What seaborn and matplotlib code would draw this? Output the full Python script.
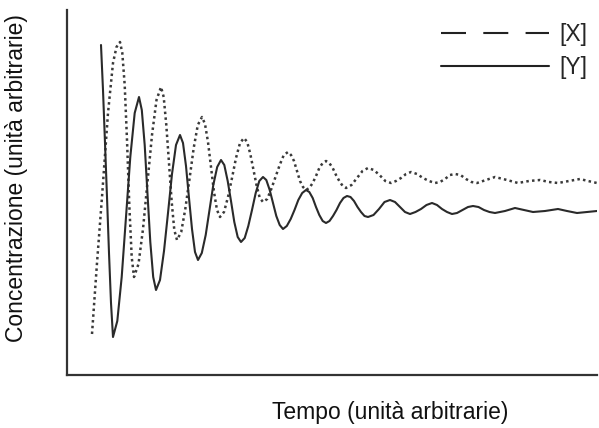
import matplotlib
matplotlib.use("Agg")
import matplotlib.pyplot as plt
import seaborn as sns
import pandas as pd
from matplotlib.lines import Line2D

# Time (arbitrary units) and concentrations
time_x = [25, 30, 35, 41, 46, 49.5, 53,
          55.3, 57.7, 60, 62.3, 64.7, 67,
          71.5, 76, 80.5, 85, 89.5, 94,
          96.7, 99.3, 102, 104.7, 107.3, 110,
          114.2, 118.3, 122.5, 126.7, 130.8, 135,
          138, 141, 144, 147, 150, 153,
          157, 161, 165, 169, 173, 177,
          180.2, 183.3, 186.5, 189.7, 192.8, 196,
          200.2, 204.3, 208.5, 212.7, 216.8, 221,
          224, 227, 230, 233, 236, 239,
          242.3, 245.7, 249, 252.3, 255.7, 259,
          262.3, 265.7, 269, 272.3, 275.7, 279,
          284.5, 290, 295.5, 301,
          306.8, 312.5, 318.3, 324,
          329, 334, 339, 344,
          350, 356, 362, 368,
          373, 378, 383, 388,
          393.5, 399, 404.5, 410,
          419, 428, 440, 451, 462, 473, 482, 491, 502, 513, 521, 530]
conc_x = [41, 112, 178, 262, 312, 328, 333,
          322, 290, 235, 170, 118, 98,
          111, 146, 193, 240, 275, 288,
          278, 250, 212, 173, 145, 135,
          143, 166, 196, 227, 250, 258,
          251, 233, 208, 183, 165, 158,
          163, 178, 197, 217, 232, 237,
          233, 221, 205, 189, 177, 173,
          176, 186, 198, 210, 220, 223,
          220, 214, 204, 194, 188, 185,
          187, 192, 199, 207, 212, 214,
          212, 207, 200, 194, 189, 187,
          190, 197, 204, 207,
          205, 200, 194, 192,
          194, 197, 201, 203,
          201, 197, 194, 192,
          193, 196, 200, 201,
          200, 196, 193, 192,
          195, 198, 195, 192, 194, 195, 193, 192, 194, 196, 194, 192]

time_y = [34, 36, 38, 40, 42, 44, 46,
          50.3, 54.7, 59, 63.3, 67.7, 72,
          74.8, 77.7, 80.5, 83.3, 86.2, 89,
          93, 97, 101, 105, 109, 113,
          116, 119, 122, 125, 128, 131,
          134.8, 138.7, 142.5, 146.3, 150.2, 154,
          157.3, 160.7, 164, 167.3, 170.7, 174,
          177.7, 181.3, 185, 188.7, 192.3, 196,
          199.3, 202.7, 206, 209.3, 212.7, 216,
          219.8, 223.7, 227.5, 231.3, 235.2, 239,
          242.3, 245.7, 249, 252.3, 255.7, 259,
          262.5, 266, 269.5, 273, 276.5, 280,
          283.5, 287, 290.5, 294, 297.5, 301,
          306.5, 312, 317.5, 323,
          328, 333, 338, 343,
          348.5, 354, 359.5, 365,
          370, 375, 380, 385,
          390, 395.5, 401, 406,
          411.5, 417, 422.5, 428,
          438, 448, 457, 466, 478, 491, 500, 510, 520, 530]
conc_y = [330, 285, 232, 178, 122, 72, 38,
          54, 98, 158, 218, 262, 278,
          265, 230, 181, 133, 98, 85,
          95, 124, 162, 201, 230, 240,
          232, 209, 177, 146, 123, 115,
          122, 140, 165, 190, 208, 215,
          210, 194, 174, 153, 138, 133,
          137, 149, 165, 182, 194, 198,
          195, 185, 172, 159, 150, 146,
          149, 156, 165, 175, 182, 185,
          183, 177, 168, 160, 154, 152,
          154, 159, 165, 172, 177, 179,
          178, 174, 168, 163, 159, 158,
          160, 166, 173, 175,
          173, 168, 163, 161,
          163, 166, 170, 172,
          170, 166, 163, 161,
          162, 165, 168, 169,
          168, 165, 163, 162,
          164, 167, 165, 163, 164, 166, 164, 162, 163, 164]

series_labels = ["[X]", "[Y]"]
x_title = "Tempo (unità arbitrarie)"
y_title = "Concentrazione (unità arbitrarie)"

sns.set_style("white")
plt.rcParams["font.family"] = ["Liberation Sans", "DejaVu Sans"]

fig = plt.figure(figsize=(5.99, 4.28), dpi=100)
ax = fig.add_axes([67 / 599, 1 - 375 / 428, 530 / 599, 365 / 428])

df_x = pd.DataFrame({"t": time_x, "c": conc_x})
df_y = pd.DataFrame({"t": time_y, "c": conc_y})

sns.lineplot(data=df_x, x="t", y="c", ax=ax, color="#3a3a3a", linewidth=1.8,
             linestyle=(0, (1, 1.3)), estimator=None, sort=False)
sns.lineplot(data=df_y, x="t", y="c", ax=ax, color="#2a2a2a", linewidth=1.5,
             estimator=None, sort=False)

ax.set_xlim(0, 530)
ax.set_ylim(0, 365)
ax.set_xticks([])
ax.set_yticks([])
ax.set_xlabel("")
ax.set_ylabel("")
for side in ["top", "right"]:
    ax.spines[side].set_visible(False)
for side in ["left", "bottom"]:
    ax.spines[side].set_color("#333333")
    ax.spines[side].set_linewidth(1.6)

fig.text(17 / 599, 1 - 178 / 428, y_title, rotation=90, ha="center", va="center",
         fontsize=16.5, color="#111111")
fig.text(390 / 599, 1 - 412 / 428, x_title, ha="center", va="center",
         fontsize=16.5, color="#111111")

handles = [Line2D([], [], color="#222222", linewidth=1.5, linestyle=(0, (12, 8.3))),
           Line2D([], [], color="#222222", linewidth=1.5)]
fig.legend(handles, series_labels, loc="upper left",
           bbox_to_anchor=(441 / 599, 1 - 23 / 428), bbox_transform=fig.transFigure,
           frameon=False, borderpad=0, borderaxespad=0, handlelength=4.7,
           handletextpad=0.48, labelspacing=0.45, fontsize=16.5)

fig.savefig("out.png", dpi=100)
